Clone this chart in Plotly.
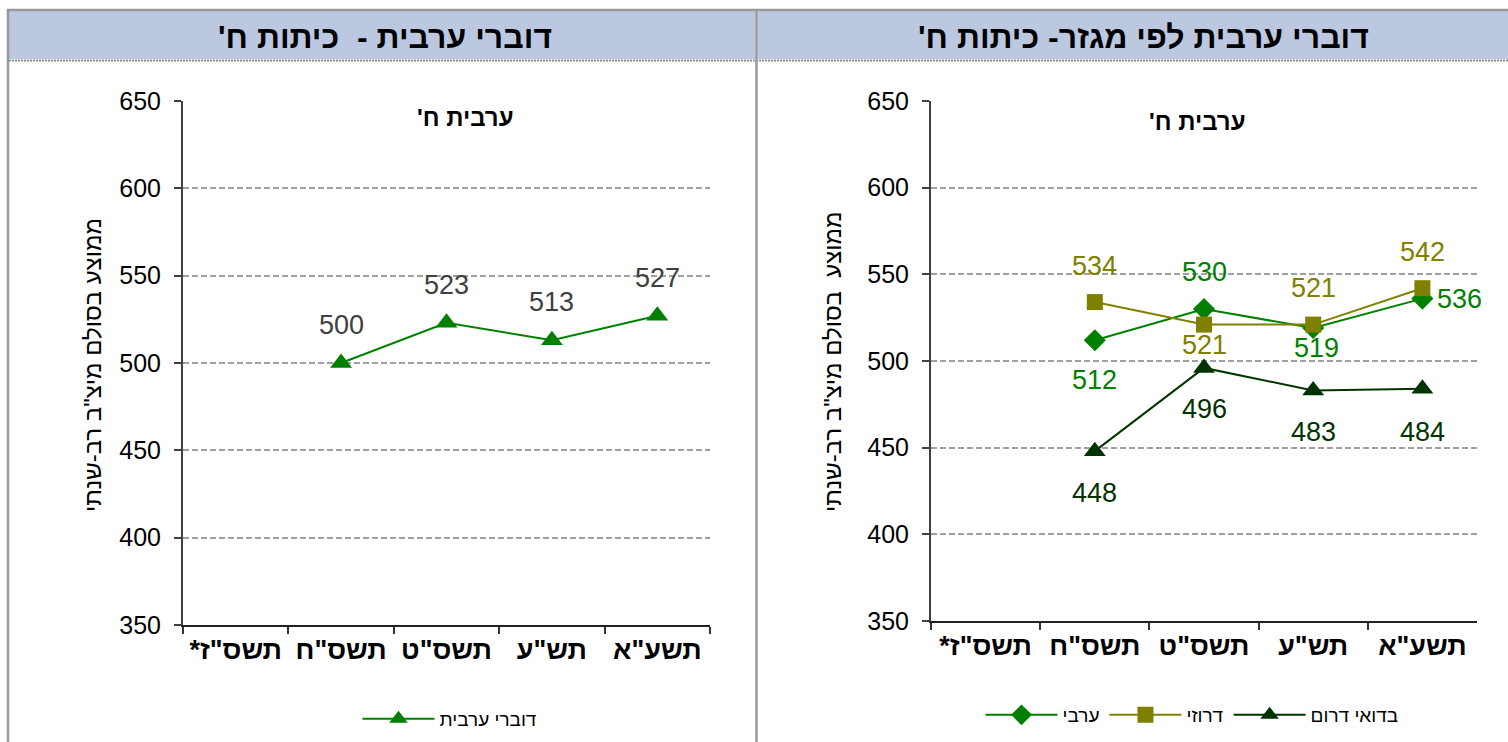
import plotly.graph_objects as go

# School years (category axis) and grade-8 Arabic scores
years = ['*תשס"ז', 'תשס"ח', 'תשס"ט', 'תש"ע', 'תשע"א']

arabic_speakers = [None, 500, 523, 513, 527]

arab = [None, 512, 530, 519, 536]
druze = [None, 534, 521, 521, 542]
bedouin_south = [None, 448, 496, 483, 484]

W, H = 1508, 742
RLM = "\u200f"
FONT = "Liberation Sans, Arial, sans-serif"


def fx(p):
    return p / W


def fy(p):
    return 1 - p / H


fig = go.Figure()

# ---- left panel: all Arabic speakers ----
fig.add_trace(go.Scatter(
    x=years, y=arabic_speakers, name="דוברי ערבית", mode="lines+markers",
    line=dict(color="#008000", width=2),
    marker=dict(symbol="triangle-up", size=19, color="#008000"),
    xaxis="x", yaxis="y", legend="legend", showlegend=True,
))

# ---- right panel: by sector ----
right_series = [
    ("ערבי", arab, "#008000", "diamond", 17),
    ("דרוזי", druze, "#808000", "square", 16),
    ("בדואי דרום", bedouin_south, "#003300", "triangle-up", 19),
]
for name, vals, color, sym, size in right_series:
    fig.add_trace(go.Scatter(
        x=years, y=vals, name=name, mode="lines+markers",
        line=dict(color=color, width=2),
        marker=dict(symbol=sym, size=size, color=color),
        xaxis="x2", yaxis="y2", legend="legend2", showlegend=True,
    ))

annotations = []

# value labels, left panel (grey, above the points)
for cat, v in zip(years, arabic_speakers):
    if v is None:
        continue
    annotations.append(dict(x=cat, y=v, xref="x", yref="y", text=str(v),
                            showarrow=False, yshift=38,
                            font=dict(family=FONT, size=27, color="#404040")))

# value labels, right panel: (xshift, yshift) per point
label_offsets = {
    "ערבי": [None, (0, -40), (0, 37), (3, -20), (37, 0)],
    "דרוזי": [None, (0, 36), (0, -20), (0, 37), (0, 36)],
    "בדואי דרום": [None, (0, -42), (0, -41), (0, -42), (0, -43)],
}
for name, vals, color, sym, size in right_series:
    for cat, v, off in zip(years, vals, label_offsets[name]):
        if v is None:
            continue
        annotations.append(dict(x=cat, y=v, xref="x2", yref="y2", text=str(v),
                                showarrow=False, xshift=off[0], yshift=off[1],
                                font=dict(family=FONT, size=27, color=color)))


def paper_text(x, y, text, size, bold=False, angle=0):
    return dict(x=fx(x), y=fy(y), xref="paper", yref="paper", text=text,
                showarrow=False, xanchor="center", yanchor="middle", textangle=angle,
                font=dict(family=FONT, size=size, color="black",
                          weight="bold" if bold else "normal"))


# panel headers
annotations.append(paper_text(385, 37, "דוברי ערבית -  כיתות ח'" + RLM, 32, bold=True))
annotations.append(paper_text(1143, 37, "דוברי ערבית לפי מגזר- כיתות ח'" + RLM, 32, bold=True))

# inner chart titles
annotations.append(paper_text(465, 117, "ערבית ח'" + RLM, 24, bold=True))
annotations.append(paper_text(1197, 121, "ערבית ח'" + RLM, 24, bold=True))

# y-axis titles
annotations.append(paper_text(92, 365, 'ממוצע בסולם מיצ"ב רב-שנתי', 24, angle=-90))
annotations.append(paper_text(833, 362, 'ממוצע  בסולם מיצ"ב רב-שנתי', 24, angle=-90))

# frame, header bands and divider
shapes = [
    dict(type="rect", xref="paper", yref="paper", x0=fx(9), x1=fx(755), y0=fy(59), y1=fy(11),
         fillcolor="#BCC8E0", line=dict(width=0), layer="below"),
    dict(type="rect", xref="paper", yref="paper", x0=fx(758), x1=fx(1508), y0=fy(59), y1=fy(11),
         fillcolor="#BCC8E0", line=dict(width=0), layer="below"),
    dict(type="line", xref="paper", yref="paper", x0=fx(9), x1=1, y0=fy(60.5), y1=fy(60.5),
         line=dict(color="#8C8C8C", width=2, dash="2px,1px"), layer="below"),
    dict(type="line", xref="paper", yref="paper", x0=fx(7), x1=1, y0=fy(10), y1=fy(10),
         line=dict(color="#999999", width=2.5), layer="below"),
    dict(type="line", xref="paper", yref="paper", x0=fx(8), x1=fx(8), y0=0, y1=fy(9),
         line=dict(color="#999999", width=2.5), layer="below"),
    dict(type="line", xref="paper", yref="paper", x0=fx(756.5), x1=fx(756.5), y0=0, y1=fy(9),
         line=dict(color="#999999", width=2.5), layer="below"),
]

xaxis_common = dict(
    type="category", categoryorder="array", categoryarray=years,
    range=[-0.5, 4.5], tickson="boundaries", ticks="outside", ticklen=7,
    tickwidth=1.5, tickcolor="#333333",
    showline=True, linecolor="#222222", linewidth=2, showgrid=False,
    tickfont=dict(family=FONT, size=27, color="black", weight="bold"),
    fixedrange=True,
)
yaxis_common = dict(
    range=[350, 650], dtick=50, tick0=350, ticks="outside", ticklen=7,
    tickwidth=1.5, tickcolor="#404040",
    showline=True, linecolor="#404040", linewidth=2,
    showgrid=True, gridcolor="#A0A0A0", gridwidth=1.5, griddash="6px,3px",
    zeroline=False, ticklabelstandoff=8,
    tickfont=dict(family=FONT, size=25, color="black"),
    fixedrange=True,
)

legend_common = dict(orientation="h", xanchor="center", yanchor="middle",
                     font=dict(family=FONT, size=19, color="black"), itemwidth=72,
                     bgcolor="rgba(0,0,0,0)", tracegroupgap=0)

fig.update_layout(
    width=W, height=H, margin=dict(l=0, r=0, t=0, b=0, autoexpand=False),
    paper_bgcolor="white", plot_bgcolor="white",
    font=dict(family=FONT), showlegend=True,
    xaxis=dict(domain=[fx(183), fx(710)], anchor="y", **xaxis_common),
    yaxis=dict(domain=[fy(625), fy(101)], anchor="x", **yaxis_common),
    xaxis2=dict(domain=[fx(931), fx(1477)], anchor="y2", **xaxis_common),
    yaxis2=dict(domain=[fy(621), fy(101)], anchor="x2", **yaxis_common),
    legend=dict(x=fx(450), y=fy(719), **legend_common),
    legend2=dict(x=fx(1192), y=fy(715), **legend_common),
    annotations=annotations,
    shapes=shapes,
)

fig.write_html("out.html")
